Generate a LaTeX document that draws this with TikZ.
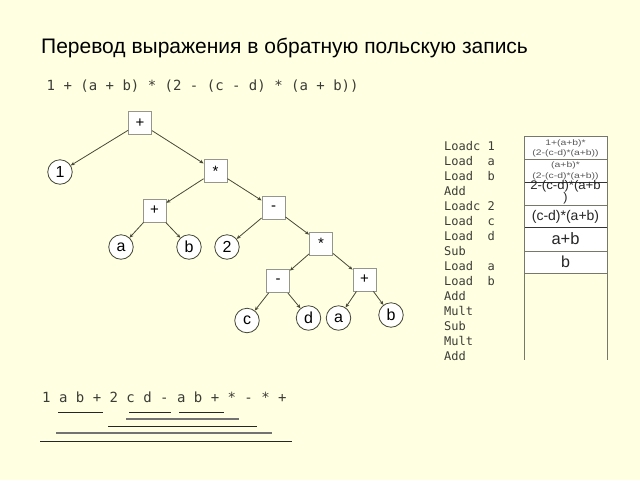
\documentclass[tikz,border=0pt]{standalone}
\usepackage{fontspec}
\usepackage{graphicx}
\setmainfont{Liberation Sans}
\newfontfamily\monof{DejaVu Sans Mono}
\usetikzlibrary{arrows.meta}
\definecolor{bg}{RGB}{255,255,225}
\definecolor{edgec}{RGB}{72,72,56}
\definecolor{txtc}{RGB}{60,60,55}
\definecolor{boxc}{RGB}{150,150,140}
\definecolor{tabc}{RGB}{120,120,105}
\begin{document}
\begin{tikzpicture}[x=1pt,y=-1pt,
  opbox/.style={draw=boxc, fill=white, line width=0.9pt, minimum width=23pt, minimum height=23pt, inner sep=0pt, font=\fontsize{15}{15}\selectfont},
  leaf/.style={circle, draw=edgec, fill=white, line width=0.8pt, minimum size=24.5pt, inner sep=0pt, font=\fontsize{16}{16}\selectfont},
  edge/.style={draw=edgec, line width=0.8pt, -{Stealth[length=4pt,width=3.5pt]}},
  mono/.style={anchor=base west, inner sep=0pt, text=txtc, font=\monof\fontsize{14}{16}\selectfont},
  loadtxt/.style={anchor=base west, inner sep=0pt, text=txtc, font=\monof\fontsize{12}{14}\selectfont},
  tiny/.style={inner sep=0pt, text=black!65, font=\fontsize{8}{9}\selectfont},
  cell/.style={inner sep=0pt, text=black!85},
  uline/.style={draw=black!85, line width=0.9pt},
  gline/.style={draw=black!55, line width=1.3pt}
]
\fill[bg] (0,0) rectangle (640,480);

% title and expression
\node[anchor=base west, inner sep=0pt, font=\fontsize{21}{24}\selectfont] (title) at (41,53.3) {Перевод выражения в обратную польскую запись};
\node[mono] (expr) at (46.5,90) {1 + (a + b) * (2 - (c - d) * (a + b))};

% tree
\node[opbox] (r) at (140,123) {+};
\node[leaf] (n1) at (60,172) {1};
\node[opbox] (m1) at (215.5,171) {*};
\node[opbox] (p1) at (154.5,210.5) {+};
\node[opbox] (s1) at (273.5,208) {-};
\node[leaf] (a1) at (121,247) {a};
\node[leaf] (b1) at (189,247) {b};
\node[leaf] (t2) at (227,247) {2};
\node[opbox] (m2) at (321,243.5) {*};
\node[opbox] (s2) at (278,281) {-};
\node[opbox] (p2) at (364.5,279.5) {+};
\node[leaf] (c1) at (247,320.5) {c};
\node[leaf] (d1) at (308.5,318) {d};
\node[leaf] (a2) at (338.5,318) {a};
\node[leaf] (b2) at (391,315) {b};

\draw[edge] (r) -- (n1);
\draw[edge] (r) -- (m1);
\draw[edge] (m1) -- (p1);
\draw[edge] (m1) -- (s1);
\draw[edge] (p1) -- (a1);
\draw[edge] (p1) -- (b1);
\draw[edge] (s1) -- (t2);
\draw[edge] (s1) -- (m2);
\draw[edge] (m2) -- (s2);
\draw[edge] (m2) -- (p2);
\draw[edge] (s2) -- (c1);
\draw[edge] (s2) -- (d1);
\draw[edge] (p2) -- (a2);
\draw[edge] (p2) -- (b2);

% instruction list
\foreach \t [count=\i from 0] in {Loadc 1,Load\ \ a,Load\ \ b,Add,Loadc 2,Load\ \ c,Load\ \ d,Sub,Load\ \ a,Load\ \ b,Add,Mult,Sub,Mult,Add}
  \node[loadtxt] (ld\i) at (444,150.7+14.95*\i) {\t};

% stack table
\fill[white] (524,136) rectangle (607,273);
\draw[tabc, line width=0.9pt] (524,136) -- (607,136);
\draw[tabc, line width=0.9pt] (524,159) -- (607,159);
\draw[black!80, line width=1pt] (524,182) -- (607,182);
\draw[tabc, line width=0.9pt] (524,205) -- (607,205);
\draw[black!80, line width=1pt] (524,227) -- (607,227);
\draw[tabc, line width=0.9pt] (524,251) -- (607,251);
\draw[tabc, line width=0.9pt] (524,273) -- (607,273);
\draw[tabc, line width=1pt] (524,136) -- (524,360);
\draw[tabc, line width=1pt] (607,136) -- (607,360);

\node[tiny] (c1a) at (565.5,143) {\scalebox{1.3}[1]{1+(a+b)*}};
\node[tiny] (c1b) at (565.5,153.5) {\scalebox{1.3}[1]{(2-(c-d)*(a+b))}};
\node[tiny] (c2a) at (565.5,165) {\scalebox{1.3}[1]{(a+b)*}};
\node[tiny] (c2b) at (565.5,176.5) {\scalebox{1.3}[1]{(2-(c-d)*(a+b))}};
\node[cell, font=\fontsize{12.5}{13}\selectfont] (c3a) at (565.5,186.5) {\scalebox{1.05}[1]{2-(c-d)*(a+b}};
\node[cell, font=\fontsize{12.5}{13}\selectfont] (c3b) at (565.5,198.5) {)};
\node[cell, font=\fontsize{14}{15}\selectfont] (c4) at (565.5,216.5) {(c-d)*(a+b)};
\node[cell, font=\fontsize{16.5}{17}\selectfont] (c5) at (565.5,239) {a+b};
\node[cell, font=\fontsize{16}{17}\selectfont] (c6) at (565.5,262) {b};

% postfix result
\node[mono] (post) at (42,402.5) {1 a b + 2 c d - a b + * - * +};
\draw[uline] (58,412) -- (103,412);
\draw[uline] (129,412) -- (171,412);
\draw[uline] (179,412) -- (224,412);
\draw[gline] (126,419) -- (239,419);
\draw[uline] (108,426) -- (257,426);
\draw[gline] (56,433) -- (272,433);
\draw[uline] (40,441) -- (292,441);
\end{tikzpicture}
\end{document}
